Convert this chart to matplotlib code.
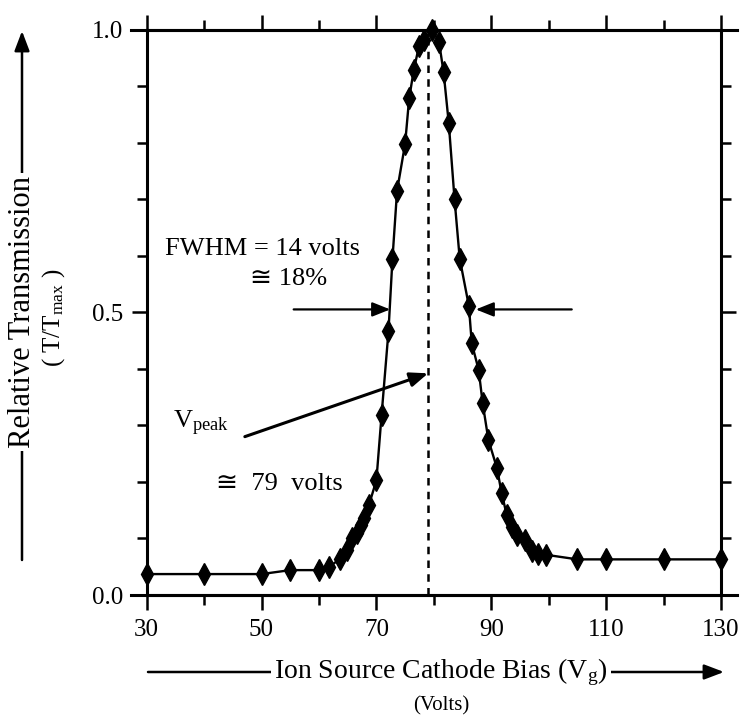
import matplotlib
matplotlib.use('Agg')
import matplotlib.pyplot as plt
from matplotlib.ticker import MultipleLocator, FixedLocator

# ---- data ----
bias_volts = [30, 40, 50, 55, 60, 61.8, 63.7, 64.8, 65.8, 66.7, 67.3, 67.9, 68.7,
              70.0, 70.9, 72.1, 72.8, 73.6, 75.0, 75.7, 76.5, 77.4, 78.3, 79.7,
              80.9, 81.7, 82.6, 83.6, 84.5, 86.1, 86.6, 87.8, 88.5, 89.5, 91.0,
              91.8, 92.7, 93.6, 94.4, 95.9, 97.0, 98.2, 99.6, 105, 110, 120, 130]
rel_trans = [0.037, 0.037, 0.037, 0.044, 0.044, 0.050, 0.064, 0.080, 0.100, 0.110,
             0.124, 0.136, 0.159, 0.203, 0.318, 0.466, 0.595, 0.715, 0.798, 0.878,
             0.928, 0.970, 0.981, 1.0, 0.978, 0.924, 0.834, 0.700, 0.595, 0.511,
             0.445, 0.398, 0.339, 0.274, 0.224, 0.180, 0.141, 0.121, 0.106, 0.097,
             0.077, 0.073, 0.071, 0.063, 0.063, 0.063, 0.063]
v_peak = 79
x_ticks = [30, 50, 70, 90, 110, 130]
x_tick_labels = ['30', '50', '70', '90', '110', '130']
y_ticks = [0.0, 0.5, 1.0]
y_tick_labels = ['0.0', '0.5', '1.0']

FAM = ['Liberation Serif', 'DejaVu Serif', 'DejaVu Sans']
plt.rcParams['font.family'] = FAM
plt.rcParams['mathtext.fontset'] = 'custom'
plt.rcParams['mathtext.rm'] = 'Liberation Serif'
plt.rcParams['mathtext.it'] = 'Liberation Serif:italic'

W, H = 755, 725
fig = plt.figure(figsize=(W / 100, H / 100), dpi=100)
ax = fig.add_axes([146.6 / W, 1 - 595 / H, 574.5 / W, 565.5 / H])

ax.plot(bias_volts, rel_trans, color='black', lw=1.7, marker='d', ms=11,
        markeredgewidth=1.0, zorder=3, clip_on=False)
ax.axvline(v_peak, color='black', lw=1.8, ls=(0, (3, 2.5)), zorder=2)

ax.set_xlim(30, 130)
ax.set_ylim(0, 1)
ax.xaxis.set_major_locator(FixedLocator(x_ticks))
ax.set_xticklabels(x_tick_labels)
ax.xaxis.set_minor_locator(MultipleLocator(10))
ax.yaxis.set_major_locator(FixedLocator(y_ticks))
ax.set_yticklabels(y_tick_labels)
ax.yaxis.set_minor_locator(MultipleLocator(0.1))

for s in ax.spines.values():
    s.set_linewidth(2.2)
ax.tick_params(which='both', direction='out', top=True, right=True,
               labeltop=False, labelright=False, width=1.8, labelsize=18)
ax.tick_params(which='major', length=11, pad=6)
ax.tick_params(which='minor', length=7)

# overshooting frame lines (top and bottom)
for yv in (0, 1):
    ax.plot([-0.027, 1.027], [yv, yv], transform=ax.transAxes, clip_on=False,
            color='black', lw=2.2, zorder=4)

arrow_kw = dict(arrowstyle='-|>,head_length=0.9,head_width=0.36', mutation_scale=12,
                color='black', lw=1.6, shrinkA=0, shrinkB=0)

# FWHM arrows
ax.annotate('', xy=(72.4, 0.505), xytext=(55.6, 0.505), arrowprops=arrow_kw)
ax.annotate('', xy=(87.3, 0.505), xytext=(104.0, 0.505), arrowprops=arrow_kw)
ax.text(33.2, 0.601, 'FWHM = 14 volts', fontsize=19, va='baseline', ha='left')
ax.text(48.0, 0.548, '\u2245 18%', fontsize=19, va='baseline', ha='left', family=FAM)

# V_peak
ax.annotate('', xy=(79.0, 0.392), xytext=(47.1, 0.280),
            arrowprops=dict(arrow_kw, lw=2.2))
ax.text(34.6, 0.295, r'V$_{\mathrm{peak}}$', fontsize=19, va='baseline', ha='left')
ax.text(42.0, 0.186, '\u2245  79  volts', fontsize=19, va='baseline', ha='left',
        family=FAM)

# axis label arrows
fig_arrow = dict(arrowstyle='-|>,head_length=1.0,head_width=0.38', mutation_scale=12,
                 color='black', lw=1.8, shrinkA=0, shrinkB=0)
ax.annotate('', xy=(22 / W, 1 - 31 / H), xytext=(22 / W, 1 - 560 / H),
            xycoords='figure fraction', textcoords='figure fraction',
            arrowprops=fig_arrow, annotation_clip=False)
ax.annotate('', xy=(724 / W, 1 - 672 / H), xytext=(148 / W, 1 - 672 / H),
            xycoords='figure fraction', textcoords='figure fraction',
            arrowprops=fig_arrow, annotation_clip=False)

white = dict(facecolor='white', edgecolor='none', pad=2)
fig.text(23 / W, 1 - 312 / H, 'Relative Transmission', rotation=90, ha='center',
         va='center', fontsize=22, bbox=white)
fig.text(54 / W, 1 - 318 / H, r'( T/T$_{\mathrm{max}}$ )', rotation=90, ha='center',
         va='center', fontsize=18)
fig.text(441 / W, 1 - 672 / H, r'Ion Source Cathode Bias (V$_{\mathrm{g}}$)',
         ha='center', va='center', fontsize=20, bbox=white)
fig.text(441 / W, 1 - 706 / H, '(Volts)', ha='center', va='center', fontsize=15)

fig.savefig('out.png', dpi=100)
